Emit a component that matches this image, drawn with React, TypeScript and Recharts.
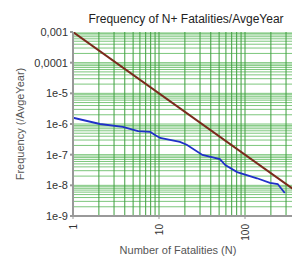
import React from "react";
import { LineChart, Line, XAxis, YAxis, ReferenceLine } from "recharts";

const xTicks = [1, 10, 100, 1000];
const xTickLabels = ["1", "10", "100", "1000"];
const yTicks = [1e-9, 1e-8, 1e-7, 1e-6, 1e-5, 1e-4, 1e-3];
const yTickLabels = ["1e-9", "1e-8", "1e-7", "1e-6", "1e-5", "0,0001", "0,001"];

const xGrid = [
  1, 2, 3, 4, 5, 6, 7, 8, 9,
  10, 20, 30, 40, 50, 60, 70, 80, 90,
  100, 200, 300, 400, 500, 600, 700, 800, 900, 1000,
];
const yGrid = [
  1e-9, 2e-9, 3e-9, 4e-9, 5e-9, 6e-9, 7e-9, 8e-9, 9e-9,
  1e-8, 2e-8, 3e-8, 4e-8, 5e-8, 6e-8, 7e-8, 8e-8, 9e-8,
  1e-7, 2e-7, 3e-7, 4e-7, 5e-7, 6e-7, 7e-7, 8e-7, 9e-7,
  1e-6, 2e-6, 3e-6, 4e-6, 5e-6, 6e-6, 7e-6, 8e-6, 9e-6,
  1e-5, 2e-5, 3e-5, 4e-5, 5e-5, 6e-5, 7e-5, 8e-5, 9e-5,
  1e-4, 2e-4, 3e-4, 4e-4, 5e-4, 6e-4, 7e-4, 8e-4, 9e-4,
  1e-3,
];

const criterionN = [1, 1000];
const criterionF = [1e-3, 1e-9];

const fnN = [1, 2.06, 3.8, 5.7, 7.9, 9.0, 10.3, 17.5, 21, 32, 51, 59, 81, 138, 195, 240, 290];
const fnF = [1.6e-6, 1.0e-6, 8.0e-7, 5.9e-7, 5.5e-7, 4.4e-7, 3.5e-7, 2.6e-7, 2.1e-7, 9.8e-8, 7.2e-8, 4.6e-8, 2.7e-8, 1.7e-8, 1.2e-8, 1.1e-8, 5.6e-9];

const criterionData = criterionN.map((n, i) => ({ n, f: criterionF[i] }));
const fnData = fnN.map((n, i) => ({ n, f: fnF[i] }));

const font = "Arial, 'Liberation Sans', sans-serif";

const XTick = (props: any) => {
  const { x, y, payload } = props;
  const idx = xTicks.indexOf(payload.value);
  const label = idx >= 0 ? xTickLabels[idx] : String(payload.value);
  return (
    <text
      x={x}
      y={y}
      transform={`rotate(-90, ${x + 4}, ${y + 3})`}
      dx={4}
      dy={3}
      textAnchor="end"
      fontSize={10}
      fill="#333"
      fontFamily={font}
    >
      {label}
    </text>
  );
};

export default function App() {
  return (
    <div
      style={{
        position: "relative",
        width: 300,
        height: 258,
        marginLeft: -8,
        marginTop: -8,
        overflow: "hidden",
        background: "#fff",
        fontFamily: font,
      }}
    >
      <LineChart
        width={340}
        height={258}
        margin={{ top: 32, right: 9, bottom: 0, left: 0 }}
      >
        {yGrid.map((v) => (
          <ReferenceLine key={"h" + v} y={v} stroke="#7cc67c" strokeWidth={1} ifOverflow="hidden" />
        ))}
        {xGrid.map((v) => (
          <ReferenceLine key={"v" + v} x={v} stroke="#3f9f3f" strokeWidth={1} ifOverflow="hidden" />
        ))}
        <XAxis
          type="number"
          dataKey="n"
          scale="log"
          domain={[1, 1000]}
          ticks={xTicks}
          allowDataOverflow
          height={42}
          stroke="#999"
          strokeWidth={2}
          tickLine={{ stroke: "#999", strokeWidth: 1 }}
          tickSize={3}
          tick={<XTick />}
          interval={0}
        />
        <YAxis
          type="number"
          dataKey="f"
          scale="log"
          domain={[1e-9, 1e-3]}
          ticks={yTicks}
          allowDataOverflow
          width={73}
          stroke="#999"
          strokeWidth={2}
          tickSize={3}
          interval={0}
          tickFormatter={(v: number) => {
            const i = yTicks.findIndex((t) => Math.abs(Math.log10(t) - Math.log10(v)) < 1e-6);
            return i >= 0 ? yTickLabels[i] : String(v);
          }}
          tick={{ fontSize: 11, fill: "#333", fontFamily: font }}
        />
        <Line
          data={criterionData}
          dataKey="f"
          type="linear"
          stroke="#7a2a1c"
          strokeWidth={2}
          dot={false}
          isAnimationActive={false}
        />
        <Line
          data={fnData}
          dataKey="f"
          type="linear"
          stroke="#2030c8"
          strokeWidth={1.8}
          dot={false}
          isAnimationActive={false}
        />
      </LineChart>
      <div
        style={{
          position: "absolute",
          left: 0,
          width: 372,
          top: 12,
          textAlign: "center",
          fontSize: 12,
          color: "#222",
          whiteSpace: "nowrap",
        }}
      >
        Frequency of N+ Fatalities/AvgeYear
      </div>
      <div
        style={{
          position: "absolute",
          left: 0,
          width: 356,
          top: 244,
          textAlign: "center",
          fontSize: 11,
          color: "#555",
          whiteSpace: "nowrap",
        }}
      >
        Number of Fatalities (N)
      </div>
      <div
        style={{
          position: "absolute",
          left: 20,
          top: 124,
          transform: "translate(-50%, -50%) rotate(-90deg)",
          fontSize: 11,
          color: "#555",
          whiteSpace: "nowrap",
        }}
      >
        Frequency (/AvgeYear)
      </div>
    </div>
  );
}
